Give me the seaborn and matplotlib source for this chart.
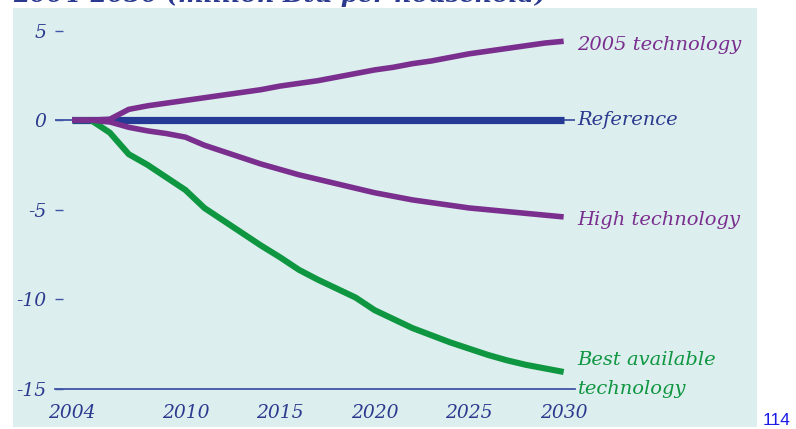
import matplotlib
matplotlib.use("Agg")
import matplotlib.pyplot as plt
from matplotlib.patches import Rectangle
import numpy as np
import pandas as pd
import seaborn as sns

# Change in household delivered energy, 2004-2030 (million Btu per household)
years = [2004, 2005, 2006, 2007, 2008, 2009, 2010, 2011, 2012, 2013, 2014, 2015,
         2016, 2017, 2018, 2019, 2020, 2021, 2022, 2023, 2024, 2025, 2026, 2027,
         2028, 2029, 2030]
reference = [0.0] * len(years)
tech_2005 = [0.0, 0.0, 0.05, 0.6, 0.8, 0.95, 1.1, 1.25, 1.4, 1.55, 1.7, 1.9,
             2.05, 2.2, 2.4, 2.6, 2.8, 2.95, 3.15, 3.3, 3.5, 3.7, 3.85, 4.0,
             4.15, 4.3, 4.4]
high_tech = [0.0, 0.0, -0.1, -0.4, -0.6, -0.75, -0.95, -1.4, -1.75, -2.1, -2.45, -2.75,
             -3.05, -3.3, -3.55, -3.8, -4.05, -4.25, -4.45, -4.6, -4.75, -4.9, -5.0,
             -5.1, -5.2, -5.3, -5.4]
best_avail = [0.0, 0.0, -0.7, -1.9, -2.5, -3.2, -3.9, -4.9, -5.6, -6.3, -7.0, -7.65,
              -8.35, -8.9, -9.4, -9.9, -10.6, -11.1, -11.6, -12.0, -12.4, -12.75,
              -13.1, -13.4, -13.65, -13.85, -14.05]

series_names = ["Reference", "2005 technology", "High technology", "Best available\ntechnology"]
series_vals = [reference, tech_2005, high_tech, best_avail]
series_colors = ["#243a94", "#7a2f8f", "#7a2f8f", "#0f9641"]
series_widths = [5.2, 4.0, 4.0, 4.4]
label_colors = ["#2b3a8f", "#7a2f8f", "#7a2f8f", "#0f9641"]
label_dy = [0, -3, -2, 0]

x_ticks = [2004, 2010, 2015, 2020, 2025, 2030]
y_ticks = [5, 0, -5, -10, -15]
y_ticklabels = ["5", "0", "-5", "-10", "-15"]

df = pd.concat(
    [pd.DataFrame({"year": years, "value": v, "series": n})
     for n, v in zip(series_names, series_vals)],
    ignore_index=True,
)

sns.set_theme(style="white")
plt.rcParams["font.family"] = ["DejaVu Serif"]

W, H = 796, 429
fig = plt.figure(figsize=(W / 100, H / 100), dpi=100, facecolor="white")

# light panel behind the chart
fig.patches.append(Rectangle((13 / W, 1 - 427 / H), (757 - 13) / W, (427 - 8) / H,
                             transform=fig.transFigure, facecolor="#ddeeee",
                             edgecolor="none", zorder=0))

ax = fig.add_axes([55 / W, 1 - 389 / H, (575 - 55) / W, (389 - 9) / H])
ax.set_facecolor("none")
ax.set_zorder(2)

axis_blue = "#3f55a5"
text_blue = "#2b3a8f"

ax.axhline(0, color=axis_blue, lw=1.3, zorder=1)

order = [0, 3, 1, 2]
for i in order:
    sub = df[df["series"] == series_names[i]]
    sns.lineplot(data=sub, x="year", y="value", ax=ax, color=series_colors[i],
                 lw=series_widths[i], solid_capstyle="butt", zorder=3 + (i > 0),
                 legend=False)

# labels at line ends
for name, vals, col, dy in zip(series_names, series_vals, label_colors, label_dy):
    ypos = vals[-1]
    if name.startswith("Best"):
        ypos = -14.2
    ax.annotate(name, xy=(years[-1], ypos), xytext=(10, dy), textcoords="offset points",
                ha="left", va="center", fontsize=14, style="italic", color=col,
                linespacing=1.75, annotation_clip=False)

ax.set_xlim(2003.1, 2030.6)
ax.set_ylim(-15, 6.2)
ax.set_xticks(x_ticks)
ax.set_xticklabels([str(t) for t in x_ticks], style="italic", fontsize=13.5, color=text_blue)
ax.set_yticks(y_ticks)
ax.set_yticklabels(y_ticklabels, style="italic", fontsize=13.5, color=text_blue)
ax.set_xlabel("")
ax.set_ylabel("")

for s in ["top", "right", "left"]:
    ax.spines[s].set_visible(False)
ax.spines["bottom"].set_color(axis_blue)
ax.spines["bottom"].set_linewidth(1.3)
ax.tick_params(axis="y", direction="in", length=5.5, width=1.0, color=axis_blue, pad=6, left=True)
ax.tick_params(axis="x", length=0, pad=11)

# title, running off the top edge
fig.text(13 / W, 1 - 2 / H, "2004-2030 (million Btu per household)", ha="left",
         va="baseline", fontsize=17.5, style="italic", fontweight="bold", color=text_blue)

# page number
fig.text(790 / W, 1 - 428 / H, "114", ha="right", va="bottom", fontsize=12.5,
         family="Liberation Sans", color="#1a1ae6")

fig.savefig("out.png", dpi=100, facecolor="white")
